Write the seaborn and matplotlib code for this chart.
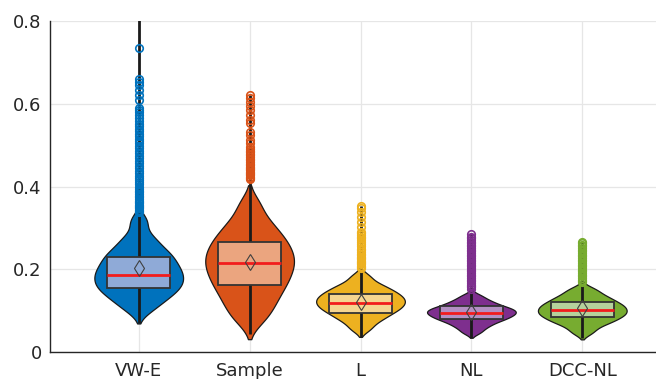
import numpy as np
import pandas as pd
import seaborn as sns
import matplotlib
matplotlib.use("Agg")
import matplotlib.pyplot as plt

# ---------------- data ----------------
categories = ["VW-E", "Sample", "L", "NL", "DCC-NL"]

# body of each distribution (quantile-like values, non-outlier part)
vwe_body = [0.102, 0.120, 0.132, 0.1415, 0.1507, 0.158, 0.165, 0.1725, 0.1798,
            0.1871, 0.1944, 0.2017, 0.2098, 0.2189, 0.2281, 0.2372, 0.2463, 0.2626,
            0.2793, 0.3162]
sample_body = [0.0760, 0.0997, 0.1187, 0.1348, 0.1507, 0.1628, 0.1748, 0.1868,
               0.1976, 0.2078, 0.2180, 0.2283, 0.2383, 0.2486, 0.2607, 0.2727, 0.2848,
               0.3025, 0.3216, 0.3580]
l_body = [0.0559, 0.0715, 0.0811, 0.0886, 0.0946, 0.1007, 0.1053, 0.1097,
          0.1142, 0.1186, 0.1228, 0.1269, 0.1311, 0.1355, 0.1405, 0.1455, 0.1508,
          0.1583, 0.1659, 0.1827]
nl_body = [0.048, 0.059, 0.066, 0.072, 0.077, 0.080, 0.084, 0.087, 0.090,
           0.093, 0.096, 0.098, 0.101, 0.104, 0.107, 0.110, 0.115, 0.120, 0.126,
           0.136]
dcc_body = [0.0471, 0.0602, 0.0692, 0.0742, 0.0792, 0.0842, 0.0881, 0.0918,
            0.0954, 0.0991, 0.1029, 0.1067, 0.1105, 0.1143, 0.1182, 0.1235, 0.1288,
            0.1342, 0.1429, 0.1529]

# smallest observation of each group (bottom of whisker line)
min_vals = [0.069, 0.043, 0.0355, 0.033, 0.033]

# outliers (beyond 1.5 IQR)
vwe_out = [0.338, 0.341, 0.344, 0.347, 0.350, 0.353, 0.356, 0.359, 0.362, 0.366,
           0.370, 0.374, 0.378, 0.382, 0.386, 0.390, 0.395, 0.400, 0.405, 0.410,
           0.415, 0.420, 0.426, 0.432, 0.438, 0.444, 0.450, 0.456, 0.462, 0.468,
           0.474, 0.480, 0.486, 0.492, 0.498, 0.504, 0.510, 0.516, 0.522, 0.528,
           0.534, 0.540, 0.546, 0.552, 0.558, 0.565, 0.572, 0.579, 0.585, 0.589,
           0.609, 0.621, 0.633, 0.645, 0.653, 0.661, 0.735, 0.860]
sample_out = [0.418, 0.421, 0.424, 0.427, 0.430, 0.433, 0.436, 0.439, 0.442, 0.445,
              0.448, 0.451, 0.455, 0.459, 0.463, 0.467, 0.471, 0.475, 0.479, 0.483,
              0.487, 0.491, 0.496, 0.504, 0.512, 0.525, 0.532, 0.553, 0.561, 0.573,
              0.585, 0.595, 0.605, 0.613, 0.620]
l_out = [0.203, 0.206, 0.209, 0.212, 0.215, 0.218, 0.221, 0.224, 0.227, 0.230,
         0.234, 0.238, 0.242, 0.246, 0.250, 0.255, 0.260, 0.265, 0.270, 0.275,
         0.279, 0.283, 0.287, 0.291, 0.303, 0.315, 0.327, 0.339, 0.349, 0.354]
nl_out = [0.152, 0.156, 0.159, 0.163, 0.167, 0.171, 0.175, 0.179, 0.183, 0.187,
          0.191, 0.195, 0.199, 0.203, 0.207, 0.211, 0.215, 0.219, 0.223, 0.227,
          0.231, 0.235, 0.239, 0.243, 0.247, 0.251, 0.255, 0.259, 0.263, 0.267,
          0.271, 0.275, 0.279, 0.284]
dcc_out = [0.168, 0.171, 0.175, 0.179, 0.183, 0.187, 0.191, 0.195, 0.199, 0.203,
           0.207, 0.211, 0.215, 0.219, 0.223, 0.227, 0.231, 0.235, 0.239, 0.243,
           0.247, 0.251, 0.255, 0.259, 0.263, 0.266]

# box statistics
q1_vals = [0.154, 0.162, 0.095, 0.079, 0.084]
median_vals = [0.187, 0.215, 0.119, 0.095, 0.102]
q3_vals = [0.229, 0.265, 0.141, 0.110, 0.121]
mean_vals = [0.204, 0.218, 0.121, 0.097, 0.106]

y_ticks = [0, 0.2, 0.4, 0.6, 0.8]
y_tick_labels = ["0", "0.2", "0.4", "0.6", "0.8"]

# ---------------- styling ----------------
violin_colors = ["#0072BD", "#D95319", "#EDB120", "#7E2F8E", "#77AC30"]
box_colors = ["#8FAAD7", "#EBA57F", "#F5D590", "#B390C3", "#B5D29C"]

bodies = [vwe_body, sample_body, l_body, nl_body, dcc_body]
outs = [vwe_out, sample_out, l_out, nl_out, dcc_out]

body_df = pd.DataFrame({
    "group": np.concatenate([[c] * len(b) for c, b in zip(categories, bodies)]),
    "value": np.concatenate(bodies),
})
out_df = pd.DataFrame({
    "group": np.concatenate([[c] * len(o) for c, o in zip(categories, outs)]),
    "value": np.concatenate(outs),
})

sns.set_theme(style="white")
plt.rcParams["font.family"] = ["DejaVu Sans"]

fig = plt.figure(figsize=(6.56, 3.79), dpi=100)
ax = fig.add_axes([50 / 656, 27 / 379, 621 / 656, 331 / 379])

palette = dict(zip(categories, violin_colors))

sns.violinplot(data=body_df, x="group", y="value", hue="group", order=categories,
               hue_order=categories, palette=palette, cut=1.8, inner=None,
               density_norm="width", width=0.8, linewidth=0.9, linecolor="#1a1a1a",
               bw_adjust=0.6, saturation=1, legend=False, ax=ax, zorder=2)

# whisker line (min to max of all observations)
max_vals = out_df.groupby("group")["value"].max().reindex(categories)
ax.vlines(np.arange(len(categories)), min_vals, max_vals, color="#1a1a1a",
          lw=2.0, zorder=3)

# outliers as hollow circles
for i, c in enumerate(categories):
    vals = out_df.loc[out_df["group"] == c, "value"].to_numpy()
    ax.plot(np.full(len(vals), i), vals, linestyle="none", marker="o",
            markersize=5.4, markerfacecolor="none", markeredgecolor=violin_colors[i],
            markeredgewidth=1.2, zorder=4)

# boxes
stats = []
for i in range(len(categories)):
    stats.append(dict(med=median_vals[i], q1=q1_vals[i], q3=q3_vals[i],
                      whislo=q1_vals[i], whishi=q3_vals[i], mean=mean_vals[i],
                      fliers=[]))
bp = ax.bxp(stats, positions=np.arange(len(categories)), widths=0.57,
            patch_artist=True, showmeans=True, showcaps=False, showfliers=False,
            manage_ticks=False, zorder=5,
            boxprops=dict(edgecolor="#333333", linewidth=1.3),
            medianprops=dict(color="#F21C1C", linewidth=2.0),
            meanprops=dict(marker="d", markersize=8.5, markerfacecolor="none",
                           markeredgecolor="#404040", markeredgewidth=0.8),
            whiskerprops=dict(linewidth=0))
for patch, col in zip(bp["boxes"], box_colors):
    patch.set_facecolor(col)

# axes styling
ax.set_xlim(-0.8, 4.8)
ax.set_ylim(0, 0.8)
ax.set_yticks(y_ticks)
ax.set_yticklabels(y_tick_labels)
ax.set_xticks(np.arange(len(categories)))
ax.set_xticklabels(categories)
ax.set_xlabel("")
ax.set_ylabel("")
ax.grid(True, color="#e6e6e6", linewidth=0.9)
ax.set_axisbelow(True)
for s in ["top", "right"]:
    ax.spines[s].set_visible(False)
for s in ["left", "bottom"]:
    ax.spines[s].set_color("#262626")
    ax.spines[s].set_linewidth(1.0)
ax.tick_params(axis="both", direction="in", length=5, width=0.9, color="#262626",
               labelsize=13, labelcolor="#262626", pad=6)
ax.tick_params(axis="x", pad=7)

fig.savefig("out.png", dpi=100)
